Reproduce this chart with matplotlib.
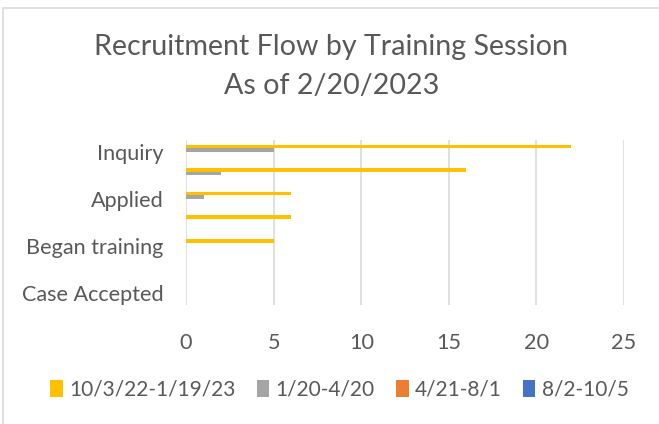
# Libraries
import numpy as np
import matplotlib.pyplot as plt
from matplotlib.patches import Rectangle

# Data
stages = ['Inquiry', 'Orientation', 'Applied', 'Home study',
          'Began training', 'Completed training', 'Case Accepted']
sessions = ['10/3/22-1/19/23', '1/20-4/20', '4/21-8/1', '8/2-10/5']
s1 = [22, 16, 6, 6, 5, 0, 0]
s2 = [5, 2, 1, 0, 0, 0, 0]
s3 = [0, 0, 0, 0, 0, 0, 0]
s4 = [0, 0, 0, 0, 0, 0, 0]
colors = ['#FFC000', '#A5A5A5', '#ED7D31', '#4472C4']

plt.rcParams['font.family'] = ['Lato', 'DejaVu Sans']

fig = plt.figure(figsize=(6.59, 4.24), dpi=100)
ax = fig.add_axes([186 / 659, 1 - 305 / 424, 438 / 659, 165 / 424])

# Border round the chart area
fig.patches.append(Rectangle((3 / 659, -0.1), 1.2, (424 - 8) / 424 + 0.1,
                             transform=fig.transFigure, fill=False,
                             edgecolor='#D9D9D9', linewidth=1.2))

y = np.arange(len(stages))
h = 0.15
for i, (vals, name) in enumerate(zip([s1, s2, s3, s4], sessions)):
    ax.barh(y + (i - 1.5) * h, vals, height=h, color=colors[i], label=name)

ax.set_ylim(len(stages) - 0.5, -0.5)
ax.set_xlim(0, 25)
ax.set_xticks([0, 5, 10, 15, 20, 25])
ax.set_yticks(y[::2])
ax.set_yticklabels(stages[::2])
ax.tick_params(length=0, labelsize=15.6, colors='#595959')
ax.tick_params(axis='x', pad=20)
ax.tick_params(axis='y', pad=16)
ax.grid(axis='x', color='#D9D9D9', linewidth=1.2)
ax.set_axisbelow(True)
for s in ax.spines.values():
    s.set_visible(False)

fig.text(0.503, 1 - 47 / 424, 'Recruitment Flow by Training Session',
         ha='center', va='center', fontsize=20.6, color='#595959')
fig.text(0.503, 1 - 86 / 424, 'As of 2/20/2023',
         ha='center', va='center', fontsize=20.6, color='#595959')

fig.legend(loc='center', bbox_to_anchor=(0.515, 1 - 390 / 424), ncol=4,
           frameon=False, fontsize=15, labelcolor='#595959',
           handlelength=0.62, handleheight=0.9, handletextpad=0.3,
           columnspacing=1.0)

fig.savefig('out.png', dpi=100)
